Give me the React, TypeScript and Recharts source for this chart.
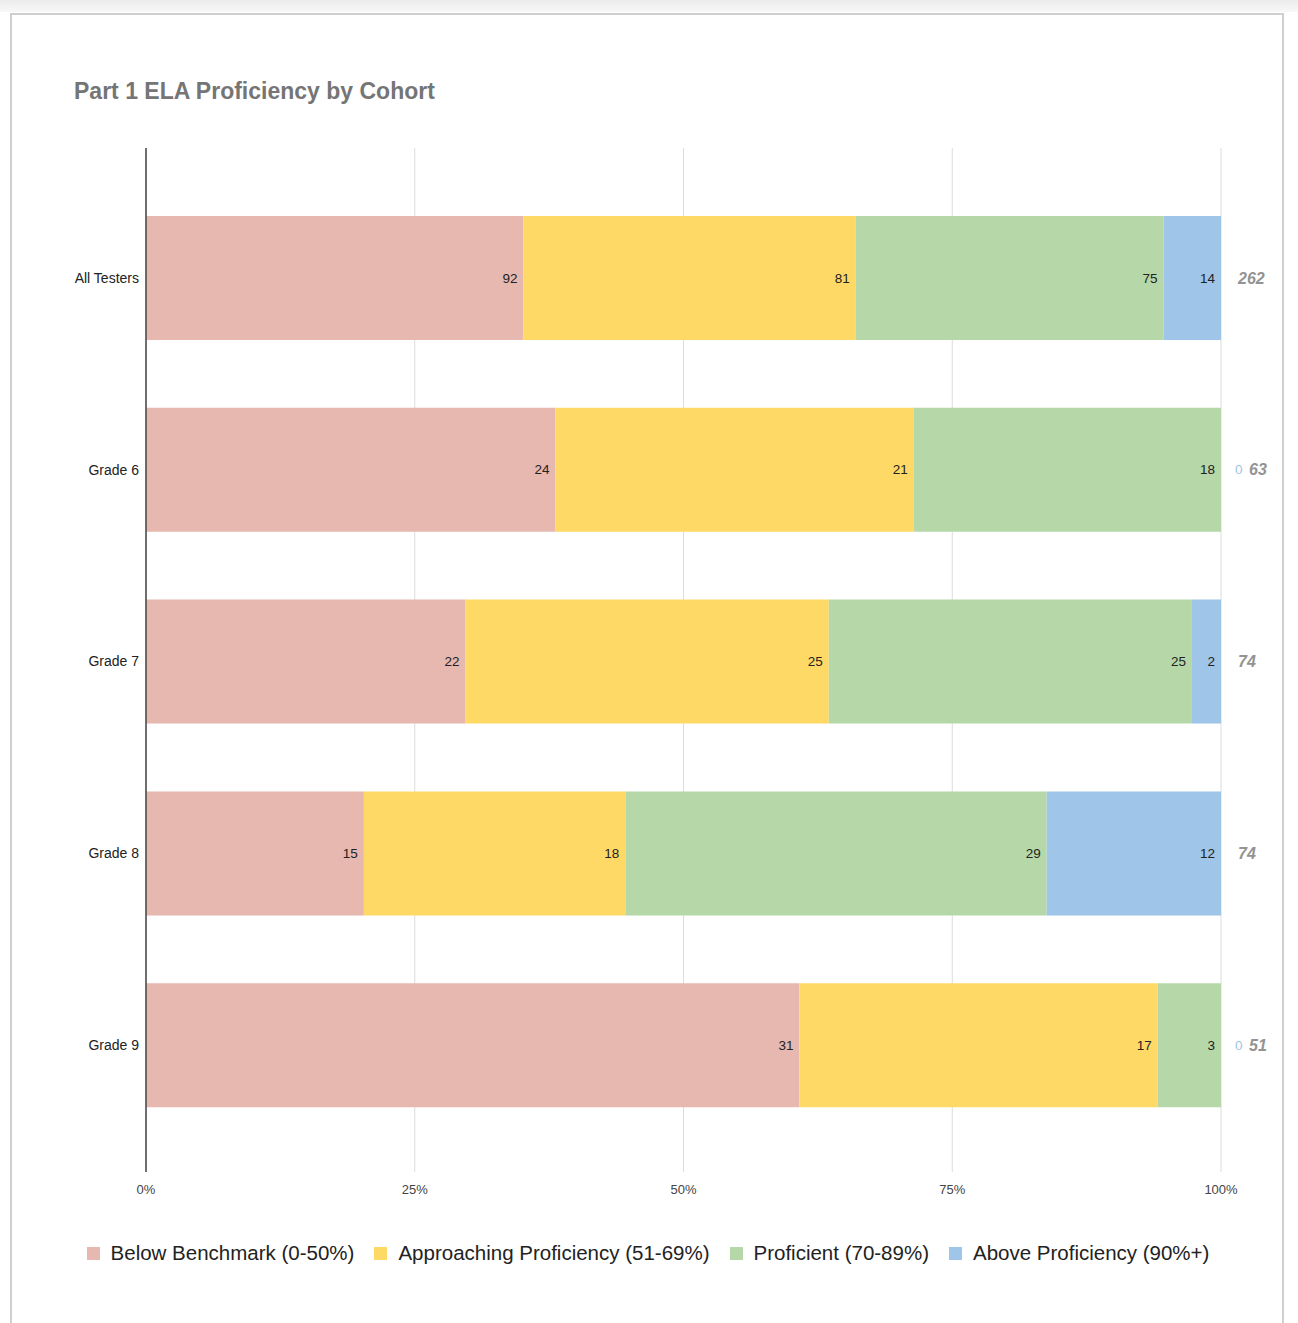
import React from 'react';
import { BarChart, Bar, XAxis, YAxis, CartesianGrid, LabelList } from 'recharts';

const categories = ['All Testers', 'Grade 6', 'Grade 7', 'Grade 8', 'Grade 9'];
const belowBenchmark = [92, 24, 22, 15, 31];
const approaching = [81, 21, 25, 18, 17];
const proficient = [75, 18, 25, 29, 3];
const aboveProficiency = [14, 0, 2, 12, 0];
const totals = [262, 63, 74, 74, 51];
const xTicks = [0, 0.25, 0.5, 0.75, 1];

const seriesNames = [
  'Below Benchmark (0-50%)',
  'Approaching Proficiency (51-69%)',
  'Proficient (70-89%)',
  'Above Proficiency (90%+)',
];
const seriesColors = ['#E6B8AF', '#FFD966', '#B6D7A8', '#9FC5E8'];
const seriesKeys = ['below', 'approaching', 'proficient', 'above'];

const data = categories.map((c, i) => ({
  name: c,
  below: belowBenchmark[i],
  approaching: approaching[i],
  proficient: proficient[i],
  above: aboveProficiency[i],
  total: totals[i],
}));

const FONT = '"Liberation Sans", Arial, Helvetica, sans-serif';

const InsideLabel = (props: any) => {
  const { x, y, width, height, value } = props;
  if (!value) return null;
  return (
    <text
      x={x + width - 6}
      y={y + height / 2}
      textAnchor="end"
      dominantBaseline="central"
      fontSize={13.5}
      fontFamily={FONT}
      fill="#222"
    >
      {value}
    </text>
  );
};

// Drawn from the first (always non-zero) segment; the full bar end is derived
// from that segment's scaled width and its share of the total.
const TotalLabel = (props: any) => {
  const { x, y, width, height, value, index } = props;
  const total = totals[index];
  const end = x + (width * total) / value;
  const cy = y + height / 2;
  const zero = aboveProficiency[index] === 0;
  return (
    <g>
      {zero && (
        <text x={end + 14} y={cy} textAnchor="start" dominantBaseline="central" fontSize={13.5} fontFamily={FONT} fill="#9FC5E8">
          0
        </text>
      )}
      <text
        x={end + (zero ? 28 : 17)}
        y={cy}
        textAnchor="start"
        dominantBaseline="central"
        fontSize={16}
        fontStyle="italic"
        fontWeight="bold"
        fontFamily={FONT}
        fill="#939393"
      >
        {total}
      </text>
    </g>
  );
};

export default function App() {
  return (
    <div style={{ position: 'absolute', left: 0, top: 0, width: 1298, height: 1323, background: '#fff', overflow: 'hidden', fontFamily: FONT }}>
      <div style={{ position: 'absolute', left: 0, top: 0, width: 1298, height: 12, background: 'linear-gradient(#ececec, #f8f8f8)' }} />
      <div style={{ position: 'absolute', left: 10, top: 13, width: 1274, height: 1340, border: '2px solid #cfcfcf', boxSizing: 'border-box' }} />
      <div style={{ position: 'absolute', left: 74, top: 78, fontSize: 23, fontWeight: 'bold', color: '#757575', whiteSpace: 'nowrap' }}>
        Part 1 ELA Proficiency by Cohort
      </div>
      <div style={{ position: 'absolute', left: 0, top: 0 }}>
        <BarChart
          width={1298}
          height={1323}
          data={data}
          layout="vertical"
          stackOffset="expand"
          margin={{ top: 148, right: 77, bottom: 121, left: 0 }}
          barCategoryGap={0}
        >
          <CartesianGrid horizontal={false} stroke="#dcdcdc" strokeWidth={1} />
          <XAxis
            type="number"
            domain={[0, 1]}
            ticks={xTicks}
            tickFormatter={(v: number) => `${Math.round(v * 100)}%`}
            axisLine={false}
            tickLine={false}
            tickSize={0}
            tickMargin={13}
            height={30}
            tick={{ fontSize: 13, fill: '#444', fontFamily: FONT }}
            interval={0}
          />
          <YAxis
            type="category"
            dataKey="name"
            width={146}
            axisLine={{ stroke: '#444', strokeWidth: 1.5 }}
            tickLine={false}
            tickSize={0}
            tickMargin={7}
            padding={{ top: 34, bottom: 31 }}
            tick={{ fontSize: 14, fill: '#222', fontFamily: FONT }}
          />
          {seriesKeys.map((k, i) => (
            <Bar key={k} dataKey={k} name={seriesNames[i]} stackId="a" fill={seriesColors[i]} barSize={124} isAnimationActive={false}>
              <LabelList dataKey={k} content={InsideLabel} />
              {i === 0 && <LabelList dataKey={k} content={TotalLabel} />}
            </Bar>
          ))}
        </BarChart>
      </div>
      <div style={{ position: 'absolute', left: 0, top: 1240, width: 1298, display: 'flex', justifyContent: 'center', paddingRight: 2, boxSizing: 'border-box' }}>
        {seriesNames.map((n, i) => (
          <div key={n} style={{ display: 'flex', alignItems: 'center', marginRight: i < 3 ? 20 : 0 }}>
            <div style={{ width: 13, height: 13, background: seriesColors[i], marginRight: 11 }} />
            <span style={{ fontSize: 20.5, color: '#222', lineHeight: '26px', whiteSpace: 'nowrap' }}>{n}</span>
          </div>
        ))}
      </div>
    </div>
  );
}
